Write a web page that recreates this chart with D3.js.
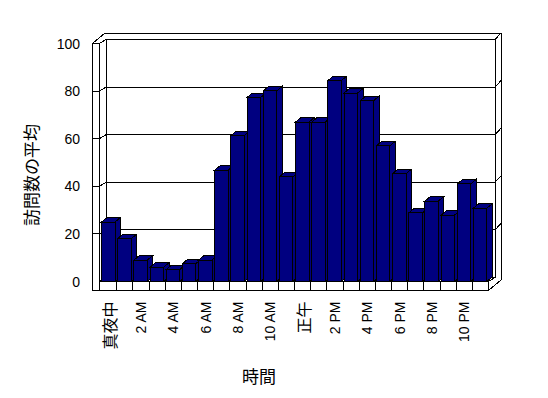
<!DOCTYPE html>
<html><head><meta charset="utf-8">
<script src="https://cdn.jsdelivr.net/npm/d3@7"></script>
<style>html,body{margin:0;padding:0;background:#fff;overflow:hidden}</style>
</head><body>
<svg id="chart" width="548" height="398"></svg>
<script>
// ---- data ----
const categories = ["真夜中","1 AM","2 AM","3 AM","4 AM","5 AM","6 AM","7 AM","8 AM","9 AM","10 AM","11 AM",
                    "正午","1 PM","2 PM","3 PM","4 PM","5 PM","6 PM","7 PM","8 PM","9 PM","10 PM","11 PM"];
const visits = [25,18,9,6,5,7.5,9,46.8,61.3,77.3,80.1,44,67,67,84.4,79.2,76,57,45.3,28.8,33.8,27.9,41,30.8];
const yTicks = [0,20,40,60,80,100];
const xTickLabels = ["真夜中","2 AM","4 AM","6 AM","8 AM","10 AM","正午","2 PM","4 PM","6 PM","8 PM","10 PM"];
const yTitle = "訪問数の平均";
const xTitle = "時間";

// ---- layout ----
const svg = d3.select("#chart");
const x = d3.scaleBand().domain(categories).range([100.5, 488.5]).paddingInner(0).paddingOuter(0);
const y = d3.scaleLinear().domain([0,100]).range([281.5, 43.5]);
const D = {dx:6.5, dy:-4};     // depth front -> back wall inner face
const D2 = {dx:6, dy:-6.5};    // back wall thickness
const wallW = 7, floorH = 9;
const barD = {dx:5.5, dy:-4.5};
const barInset = 1, barW = 13.5;

const frontL = x.range()[0] - 1, frontR = x.range()[1];
const outerL = frontL - wallW;
const yTop = y(100), yBot = y(0);
const g = svg.append("g").attr("shape-rendering","crispEdges").attr("stroke","#000").attr("stroke-width",1);
const pts = a => a.map(p => p.join(",")).join(" ");

// back wall inner face
g.append("rect").attr("x", frontL + D.dx).attr("y", yTop + D.dy)
  .attr("width", frontR - frontL).attr("height", yBot - yTop).attr("fill","#fff");
// back wall gridlines and right-edge ticks
const inner = yTicks.filter(v => v > 0 && v < 100);
inner.forEach(v => {
  const gy = y(v) + D.dy;
  g.append("line").attr("x1", frontL + D.dx).attr("x2", frontR + D.dx).attr("y1", gy).attr("y2", gy);
  g.append("line").attr("x1", frontR + D.dx).attr("y1", gy)
    .attr("x2", frontR + D.dx + D2.dx).attr("y2", gy + D2.dy);
});
// top surface of walls (left wall top + back wall top)
g.append("polygon").attr("fill","#fff").attr("points", pts([
  [outerL, yTop], [outerL + D.dx + D2.dx, yTop + D.dy + D2.dy],
  [frontR + D.dx + D2.dx, yTop + D.dy + D2.dy], [frontR + D.dx, yTop + D.dy],
  [frontL + D.dx, yTop + D.dy], [frontL, yTop]
]));
// right outer edge of back wall / floor
g.append("line").attr("x1", frontR + D.dx + D2.dx).attr("x2", frontR + D.dx + D2.dx)
  .attr("y1", yTop + D.dy + D2.dy).attr("y2", yBot + floorH + D.dy + D2.dy);
g.append("line").attr("x1", frontR).attr("y1", yBot + floorH)
  .attr("x2", frontR + D.dx + D2.dx).attr("y2", yBot + floorH + D.dy + D2.dy);
g.append("line").attr("x1", frontR).attr("y1", yBot)
  .attr("x2", frontR + D.dx).attr("y2", yBot + D.dy);

// left wall inner face
g.append("polygon").attr("fill","#fff").attr("points", pts([
  [frontL, yTop], [frontL + D.dx, yTop + D.dy], [frontL + D.dx, yBot + D.dy], [frontL, yBot]
]));
// left wall front face
g.append("rect").attr("x", outerL).attr("y", yTop).attr("width", wallW)
  .attr("height", yBot + floorH - yTop).attr("fill","#fff");
inner.forEach(v => {
  g.append("line").attr("x1", outerL).attr("x2", frontL).attr("y1", y(v)).attr("y2", y(v));
  g.append("line").attr("x1", frontL).attr("y1", y(v)).attr("x2", frontL + D.dx).attr("y2", y(v) + D.dy);
});
// floor front strip
g.append("rect").attr("x", frontL).attr("y", yBot).attr("width", frontR - frontL)
  .attr("height", floorH).attr("fill","#fff");
categories.slice(1).forEach(c => {
  g.append("line").attr("x1", x(c)).attr("x2", x(c)).attr("y1", yBot).attr("y2", yBot + floorH);
});

// bars
const fill = "#000080";
categories.forEach((c, i) => {
  const v = visits[i];
  const x0 = x(c) + barInset, x1 = x0 + barW, yt = y(v);
  const b = g.append("g").attr("fill", fill);
  b.append("polygon").attr("points", pts([[x1, yt], [x1 + barD.dx, yt + barD.dy], [x1 + barD.dx, yBot + barD.dy], [x1, yBot]]));
  b.append("polygon").attr("points", pts([[x0, yt], [x0 + barD.dx, yt + barD.dy], [x1 + barD.dx, yt + barD.dy], [x1, yt]]));
  b.append("rect").attr("x", x0).attr("y", yt).attr("width", barW).attr("height", yBot - yt);
});

// y tick labels
const latin = "'Liberation Sans', Arial, sans-serif";
const cjk = "'Noto Sans CJK JP', 'Liberation Sans', sans-serif";
svg.append("g").selectAll("text").data(yTicks).join("text")
  .attr("x", 80).attr("y", d => y(d)).attr("text-anchor","end").attr("dominant-baseline","central")
  .attr("font-family", latin).attr("font-size", 14).attr("fill","#000").text(d => d);

// x tick labels (every other category)
svg.append("g").selectAll("text").data(xTickLabels).join("text")
  .attr("transform", d => `translate(${x(d) + x.bandwidth()/2},301.5) rotate(-90)`)
  .attr("text-anchor","end").attr("dominant-baseline","central")
  .attr("font-family", d => /[A-Z0-9]/.test(d) ? latin : cjk)
  .attr("font-size", d => /[A-Z0-9]/.test(d) ? 14 : 16)
  .attr("fill","#000").text(d => d);

// axis titles
svg.append("text").attr("transform","translate(30,175) rotate(-90)")
  .attr("text-anchor","middle").attr("dominant-baseline","central")
  .attr("font-family", cjk).attr("font-size", 17).text(yTitle);
svg.append("text").attr("x", 259).attr("y", 375)
  .attr("text-anchor","middle").attr("dominant-baseline","central")
  .attr("font-family", cjk).attr("font-size", 17).text(xTitle);
</script>
</body></html>
